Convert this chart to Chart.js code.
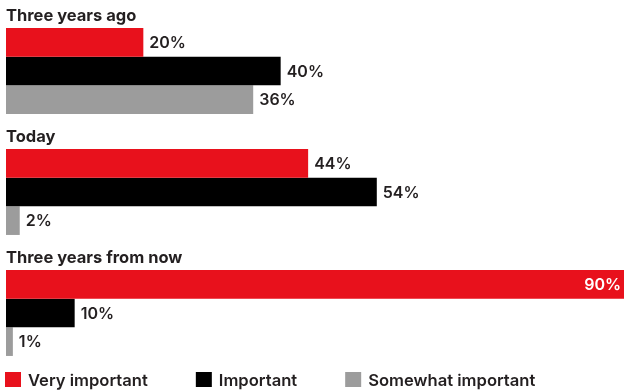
<!DOCTYPE html>
<html>
<head>
<meta charset="utf-8">
<script src="https://cdn.jsdelivr.net/npm/chart.js@4.4.1/dist/chart.umd.min.js"></script>
<style>
  html, body { margin: 0; padding: 0; background: #fff; }
  #wrap { width: 624px; height: 392px; position: relative; }
</style>
</head>
<body>
<div id="wrap"><canvas id="plot"></canvas></div>
<script>
// datos del grafico
const grupos = ['Three years ago', 'Today', 'Three years from now'];
const series = ['Very important', 'Important', 'Somewhat important'];
const muyImportante = [20, 44, 90];
const importante = [40, 54, 10];
const algoImportante = [36, 2, 1];
const colores = ['#e8111c', '#000000', '#9c9c9c'];

const fuente = 'Inter, "Noto Sans", sans-serif';
const colorTexto = '#231f20';

// titulos de grupo, etiquetas de valor y leyenda
let etiquetasPlugin = {
  id: 'etiquetas',
  afterDatasetsDraw(chart) {
    const ctx = chart.ctx;
    const area = chart.chartArea;
    ctx.save();

    // titulos encima de cada grupo
    ctx.font = '700 16.5px ' + fuente;
    ctx.fillStyle = colorTexto;
    ctx.textBaseline = 'alphabetic';
    ctx.textAlign = 'left';
    let primeras = chart.getDatasetMeta(0).data;
    grupos.forEach((g, i) => {
      let barra = primeras[i];
      let arriba = barra.y - barra.height / 2;
      ctx.fillText(g, area.left, arriba - 7);
    });

    // valores al final de cada barra
    ctx.font = '600 16px ' + fuente;
    ctx.textBaseline = 'middle';
    chart.data.datasets.forEach((ds, di) => {
      chart.getDatasetMeta(di).data.forEach((barra, i) => {
        let txt = ds.data[i] + '%';
        let w = ctx.measureText(txt).width;
        if (barra.x + 6 + w > chart.width) {
          ctx.fillStyle = '#ffffff';
          ctx.textAlign = 'right';
          ctx.fillText(txt, barra.x - 3, barra.y + 1);
        } else {
          ctx.fillStyle = colorTexto;
          ctx.textAlign = 'left';
          ctx.fillText(txt, barra.x + 6, barra.y + 1);
        }
      });
    });

    // leyenda abajo
    ctx.font = '600 16.6px ' + fuente;
    ctx.textAlign = 'left';
    ctx.textBaseline = 'middle';
    let x = 5;
    chart.data.datasets.forEach(ds => {
      ctx.fillStyle = ds.backgroundColor;
      ctx.fillRect(x, 372, 16, 15);
      ctx.fillStyle = colorTexto;
      ctx.fillText(ds.label, x + 23, 380.5);
      x += 23 + ctx.measureText(ds.label).width + 48;
    });
    ctx.restore();
  }
};

let plotRef = document.getElementById('plot');

let config = {
  type: 'bar',
  data: {
    labels: grupos,
    datasets: [
      { label: series[0], data: muyImportante, backgroundColor: colores[0] },
      { label: series[1], data: importante, backgroundColor: colores[1] },
      { label: series[2], data: algoImportante, backgroundColor: colores[2] }
    ]
  },
  options: {
    indexAxis: 'y',
    responsive: true,
    maintainAspectRatio: false,
    animation: false,
    layout: { padding: { top: 71, bottom: 79, left: 6, right: 0 } },
    datasets: {
      bar: { categoryPercentage: 0.71, barPercentage: 1, borderWidth: 0, clip: false }
    },
    scales: {
      x: { display: false, min: 0, max: 90 },
      y: { display: false, offset: false }
    },
    plugins: {
      legend: { display: false },
      tooltip: { enabled: false }
    }
  },
  plugins: [etiquetasPlugin]
};

let chart1 = new Chart(plotRef, config);
</script>
</body>
</html>
